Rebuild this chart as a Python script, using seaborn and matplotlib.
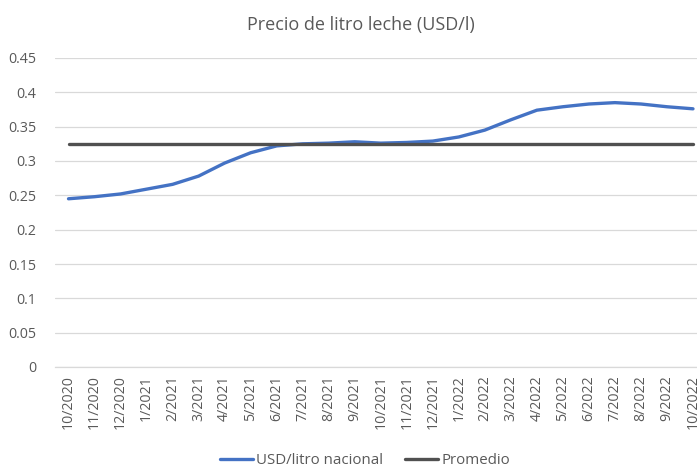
import matplotlib
matplotlib.use("Agg")
import matplotlib.pyplot as plt
import seaborn as sns
import pandas as pd
import numpy as np

months = ["10/2020", "11/2020", "12/2020", "1/2021", "2/2021", "3/2021", "4/2021",
          "5/2021", "6/2021", "7/2021", "8/2021", "9/2021", "10/2021", "11/2021",
          "12/2021", "1/2022", "2/2022", "3/2022", "4/2022", "5/2022", "6/2022",
          "7/2022", "8/2022", "9/2022", "10/2022"]
usd_litro = [0.245, 0.248, 0.252, 0.259, 0.266, 0.278, 0.297, 0.312, 0.322, 0.325,
             0.326, 0.328, 0.326, 0.327, 0.329, 0.335, 0.345, 0.360, 0.374, 0.379,
             0.383, 0.385, 0.383, 0.379, 0.376]
promedio = [0.325] * len(months)
y_ticks = [0, 0.05, 0.1, 0.15, 0.2, 0.25, 0.3, 0.35, 0.4, 0.45]
y_labels = ["0", "0.05", "0.1", "0.15", "0.2", "0.25", "0.3", "0.35", "0.4", "0.45"]

sns.set_theme(style="white")
plt.rcParams['font.family'] = ['Open Sans', 'DejaVu Sans']
text_color = "#595959"

df = pd.DataFrame({"x": np.arange(len(months)), "USD/litro nacional": usd_litro,
                   "Promedio": promedio})

fig = plt.figure(figsize=(6.97, 4.68), dpi=100)
W, H = 697, 468
left, right, top, bottom = 55.5, 706, 58, 367
ax = fig.add_axes([left / W, 1 - bottom / H, (right - left) / W, (bottom - top) / H])

sns.lineplot(data=df, x="x", y="USD/litro nacional", ax=ax, color="#4472C4",
             linewidth=2.4, solid_capstyle="round", solid_joinstyle="round",
             label="USD/litro nacional")
sns.lineplot(data=df, x="x", y="Promedio", ax=ax, color="#505050",
             linewidth=2.4, solid_capstyle="round", label="Promedio")

ax.set_xlim(-0.5, len(months) - 0.5)
ax.set_ylim(0, 0.45)
ax.set_yticks(y_ticks)
ax.set_yticklabels(y_labels, fontsize=10.3, color=text_color)
ax.set_xticks(np.arange(len(months)))
ax.set_xticklabels(months, rotation=90, fontsize=10.2, color=text_color)
ax.set_xticks(np.arange(len(months) + 1) - 0.5, minor=True)
ax.tick_params(axis="x", which="major", length=0, pad=6)
ax.tick_params(axis="x", which="minor", length=5, color="#d9d9d9", width=0.8)
ax.tick_params(axis="y", length=0, pad=14)
for lab in ax.get_yticklabels():
    lab.set_horizontalalignment("right")

ax.grid(axis="y", color="#d9d9d9", linewidth=0.9)
ax.set_axisbelow(True)
for s in ["top", "right", "left"]:
    ax.spines[s].set_visible(False)
ax.spines["bottom"].set_color("#d9d9d9")
ax.spines["bottom"].set_linewidth(0.9)
ax.set_xlabel("")
ax.set_ylabel("")

fig.text(361 / W, 1 - 25 / H, "Precio de litro leche (USD/l)", ha="center", va="center",
         fontsize=13, color=text_color)

ax.legend_.remove()
handles, labels = ax.get_legend_handles_labels()
fig.legend(handles, labels, loc="center", bbox_to_anchor=(365 / W, 1 - 461 / H),
           ncol=2, frameon=False, fontsize=10.8, labelcolor=text_color,
           handlelength=2.2, handletextpad=0.2, columnspacing=1.5)

fig.savefig("out.png", dpi=100)
